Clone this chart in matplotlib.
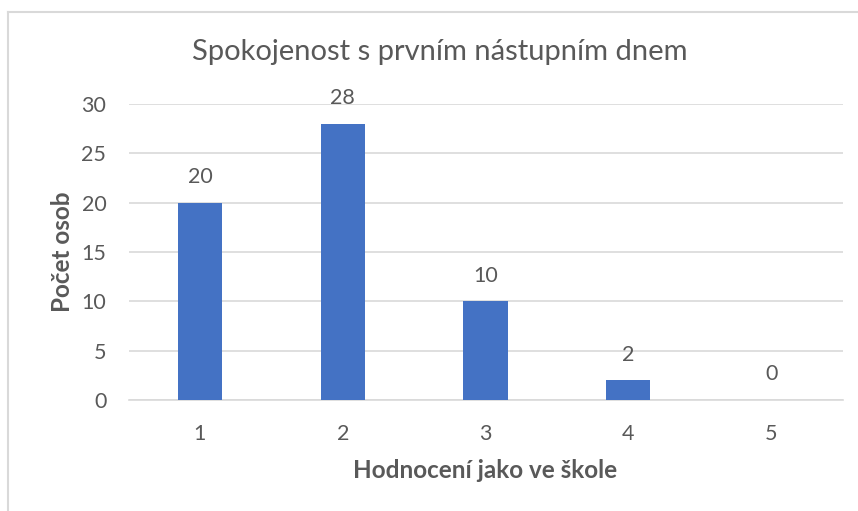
import matplotlib.pyplot as plt
from matplotlib.lines import Line2D

plt.rcParams["font.family"] = ["Lato", "DejaVu Sans"]

TEXT = "#595959"
GRID = "#d9d9d9"
BAR = "#4472c4"

# --- DATA ---------------------------------------------------------------------+

ratings = ["1", "2", "3", "4", "5"]
counts = [20, 28, 10, 2, 0]
yticks = [0, 5, 10, 15, 20, 25, 30]

# --- CHART --------------------------------------------------------------------+

fig = plt.figure(figsize=(8.58, 5.11), dpi=100)
ax = fig.add_axes([0.1498, 0.2172, 0.8322, 0.5793])

x = range(len(ratings))
bars = ax.bar(x, counts, width=0.31, color=BAR, zorder=3)

for xi, v in zip(x, counts):
    ax.annotate(str(v), (xi, v), xytext=(0, 18.5), textcoords="offset points",
                ha="center", va="center", fontsize=15.5, color=TEXT)

ax.set_xlim(-0.5, len(ratings) - 0.5)
ax.set_ylim(0, 30)
ax.set_yticks(yticks)
ax.set_xticks(list(x))
ax.set_xticklabels(ratings)
ax.grid(axis="y", color=GRID, lw=1.2, zorder=0)
ax.tick_params(length=0, labelsize=15.5, colors=TEXT)
ax.tick_params(axis="x", pad=17)
ax.tick_params(axis="y", pad=16)
for s in ["top", "right", "left"]:
    ax.spines[s].set_visible(False)
ax.spines["bottom"].set_color(GRID)
ax.spines["bottom"].set_linewidth(1.2)

ax.set_xlabel("Hodnocení jako ve škole", fontsize=17.5, fontweight="bold",
              color=TEXT, va="center")
ax.xaxis.set_label_coords(0.5, -0.2365)
ax.set_ylabel("Počet osob", fontsize=17.5, fontweight="bold", color=TEXT,
              va="center")
ax.yaxis.set_label_coords(-0.093, 0.5)

fig.text(0.513, 0.898, "Spokojenost s prvním nástupním dnem", ha="center",
         va="center", fontsize=21, color=TEXT)

# chart frame (only top and left edges visible)
fig.add_artist(Line2D([8 / 858, 1], [1 - 12 / 511] * 2, color=GRID, lw=1.5,
                      transform=fig.transFigure))
fig.add_artist(Line2D([8 / 858] * 2, [0, 1 - 12 / 511], color=GRID, lw=1.5,
                      transform=fig.transFigure))

plt.savefig("out.png", dpi=100)
